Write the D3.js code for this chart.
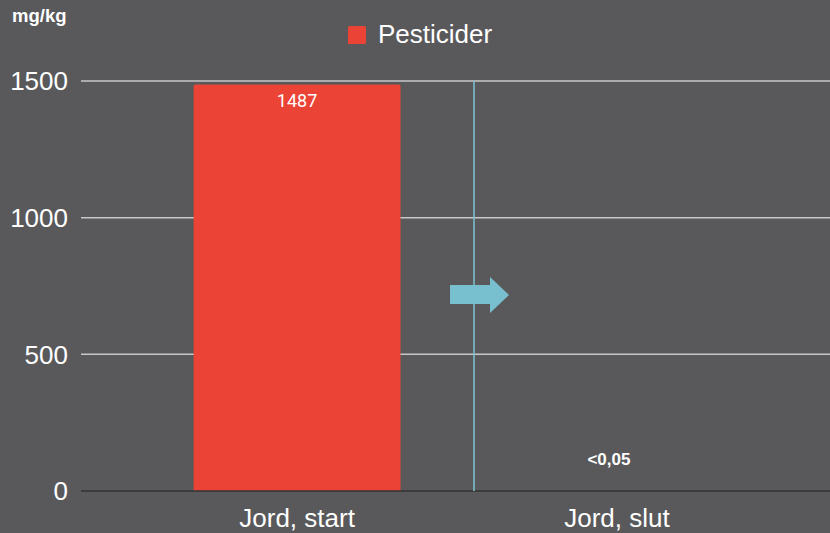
<!DOCTYPE html>
<html>
<head>
<meta charset="utf-8">
<script src="https://cdn.jsdelivr.net/npm/d3@7"></script>
<style>
  body { margin: 0; background: #59595b; }
  text { font-family: "Liberation Sans", Arial, sans-serif; fill: #fff; }
</style>
</head>
<body>
<script>
// data
const categories = ["Jord, start", "Jord, slut"];
const values = [1487, 0];
const valueLabels = ["1487", "<0,05"];
const yTicks = [0, 500, 1000, 1500];
const seriesName = "Pesticider";

const width = 830,
  height = 533;

const svg = d3
  .select("body")
  .append("svg")
  .attr("width", width)
  .attr("height", height);

svg.append("rect").attr("width", width).attr("height", height).attr("fill", "#59595b");

// scales
const xScale = d3.scaleBand().domain(categories).range([137, 777]).paddingInner(0.353).paddingOuter(0.177);
const yScale = d3.scaleLinear().domain([0, 1500]).range([491, 81]);

// gridlines
svg
  .append("g")
  .selectAll("line")
  .data(yTicks.filter((d) => d > 0))
  .enter()
  .append("line")
  .attr("x1", 81)
  .attr("x2", width)
  .attr("y1", (d) => yScale(d))
  .attr("y2", (d) => yScale(d))
  .attr("stroke", "#c8c8c8")
  .attr("stroke-width", 1.5);

// y axis labels
const yAxis = d3.axisLeft(yScale).tickValues(yTicks).tickFormat(d3.format("d")).tickSize(0).tickPadding(0);
const yg = svg.append("g").attr("transform", "translate(68,0)").call(yAxis);
yg.select(".domain").remove();
yg.selectAll("text")
  .attr("fill", "#fff")
  .attr("dy", "0.34em")
  .style("font-size", "26px")
  .style("font-family", "Liberation Sans, Arial, sans-serif");

// bars
svg
  .selectAll(".bar")
  .data(values)
  .enter()
  .append("path")
  .attr("class", "bar")
  .attr("fill", "#eb4335")
  .attr("d", (d, i) => {
    const x0 = xScale(categories[i]),
      x1 = x0 + xScale.bandwidth(),
      y0 = yScale(0),
      y1 = yScale(d),
      r = Math.min(2, (y0 - y1) / 2);
    if (y0 - y1 < 0.5) return "";
    return `M${x0},${y0}V${y1 + r}Q${x0},${y1} ${x0 + r},${y1}H${x1 - r}Q${x1},${y1} ${x1},${y1 + r}V${y0}Z`;
  });

// baseline
svg
  .append("line")
  .attr("x1", 81)
  .attr("x2", width)
  .attr("y1", yScale(0))
  .attr("y2", yScale(0))
  .attr("stroke", "#333")
  .attr("stroke-width", 1.5);

// x axis labels
const xAxis = d3.axisBottom(xScale).tickSize(0).tickPadding(0);
const xg = svg.append("g").attr("transform", "translate(0,527)").call(xAxis);
xg.select(".domain").remove();
xg.selectAll("text")
  .attr("fill", "#fff")
  .attr("y", 0)
  .attr("dy", 0)
  .style("font-size", "26px")
  .style("font-family", "Liberation Sans, Arial, sans-serif");

// value labels
svg
  .selectAll(".vlabel")
  .data(values)
  .enter()
  .append("text")
  .attr("class", "vlabel")
  .attr("text-anchor", "middle")
  .attr("x", (d, i) => xScale(categories[i]) + xScale.bandwidth() / 2 - (i === 1 ? 8 : 0))
  .attr("y", (d, i) => (i === 0 ? yScale(d) + 22 : yScale(d) - 26))
  .style("font-family", (d, i) => (i === 0 ? "Roboto, sans-serif" : "Liberation Sans, Arial, sans-serif"))
  .style("font-weight", (d, i) => (i === 0 ? "normal" : "bold"))
  .style("font-size", (d, i) => (i === 0 ? "18px" : "17px"))
  .text((d, i) => valueLabels[i]);

// vertical separator
svg
  .append("line")
  .attr("x1", 474)
  .attr("x2", 474)
  .attr("y1", yScale(1500))
  .attr("y2", yScale(0))
  .attr("stroke", "#7cc3d3")
  .attr("stroke-width", 1.5);

// arrow
svg
  .append("path")
  .attr("d", "M450,285H490V277L509,295L490,313V304H450Z")
  .attr("fill", "#78bfd0");

// legend
svg.append("rect").attr("x", 348).attr("y", 26).attr("width", 18).attr("height", 18).attr("rx", 1.5).attr("fill", "#eb4335");
svg
  .append("text")
  .attr("x", 378)
  .attr("y", 43)
  .style("font-size", "26px")
  .text(seriesName);

// unit
svg
  .append("text")
  .attr("x", 12)
  .attr("y", 22)
  .style("font-size", "18.5px")
  .style("font-weight", "bold")
  .text("mg/kg");
</script>
</body>
</html>
